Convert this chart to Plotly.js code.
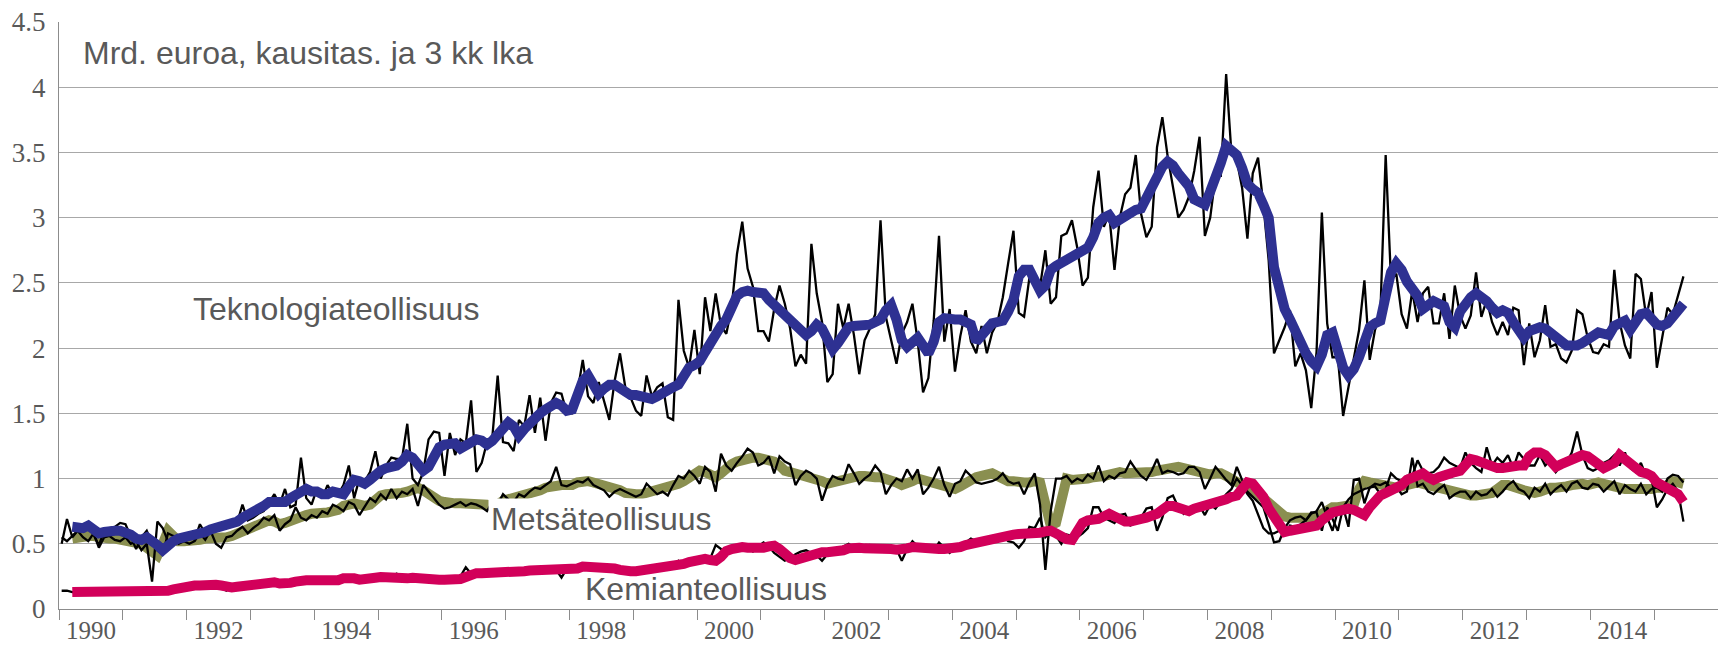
<!DOCTYPE html>
<html>
<head>
<meta charset="utf-8">
<script src="https://cdn.plot.ly/plotly-3.0.1.min.js"></script>
<style>html,body{margin:0;padding:0;background:#fff;}#chart{width:1718px;height:646px;}</style>
</head>
<body>
<div id="chart"></div>
<script>
// Monthly data, January 1990 – June 2015 (billion euros)
const START_YEAR = 1990;

const techMonthly = [
0.50,0.69,0.55,0.60,0.60,0.65,0.57,0.49,0.60,0.62,0.63,0.66,
0.65,0.56,0.46,0.55,0.60,0.50,0.45,0.42,0.58,0.56,0.55,0.54,
0.56,0.53,0.65,0.58,0.60,0.64,0.62,0.66,0.64,0.66,0.80,0.68,
0.70,0.73,0.75,0.82,0.88,0.80,0.92,0.78,0.80,1.16,0.85,0.80,
0.92,0.85,0.95,0.88,0.88,0.95,1.10,0.85,1.00,0.98,1.05,1.21,
1.00,1.10,1.16,1.15,1.15,1.42,1.00,0.95,1.05,1.30,1.36,1.35,
1.02,1.35,1.18,1.30,1.27,1.60,1.05,1.12,1.28,1.32,1.79,1.28,
1.27,1.21,1.45,1.40,1.64,1.35,1.62,1.29,1.58,1.66,1.65,1.50,
1.50,1.66,1.91,1.63,1.58,1.74,1.60,1.45,1.75,1.96,1.70,1.62,
1.52,1.48,1.79,1.63,1.70,1.73,1.47,1.45,2.37,1.98,1.85,2.14,
1.80,2.39,2.13,2.42,2.17,2.11,2.31,2.72,2.97,2.61,2.47,2.13,
2.13,2.05,2.30,2.48,2.34,2.15,1.86,1.95,1.88,2.80,2.42,2.20,
1.74,1.80,2.34,2.15,2.34,2.10,1.80,2.06,2.15,2.26,2.98,2.24,
2.06,1.88,2.11,2.20,2.34,2.05,1.66,1.77,2.21,2.86,2.05,2.30,
1.82,2.09,2.29,2.05,1.96,2.17,1.96,2.12,2.20,2.39,2.65,2.90,
2.27,2.24,2.54,2.49,2.47,2.75,2.34,2.39,2.86,2.88,2.98,2.77,
2.48,2.54,3.08,3.36,2.93,3.03,2.60,3.00,3.18,3.23,3.48,3.03,
2.85,2.93,3.54,3.77,3.47,3.23,3.00,3.06,3.16,3.36,3.62,2.86,
3.00,3.32,3.32,4.10,3.49,3.44,3.23,2.84,3.34,3.46,3.10,2.67,
1.96,2.06,2.16,2.29,1.86,1.96,1.83,1.54,1.97,3.04,2.19,1.93,
1.93,1.48,1.70,1.93,2.14,2.52,1.91,2.14,2.26,3.48,2.52,2.57,
2.26,2.15,2.44,2.20,2.42,2.47,2.19,2.19,2.42,2.07,2.48,2.25,
2.15,2.25,2.58,2.24,2.37,2.20,2.10,2.20,2.10,2.31,2.29,1.87,
2.19,1.93,2.06,2.33,2.01,2.03,1.92,1.89,1.98,2.29,2.26,2.08,
1.97,1.96,2.03,2.01,2.60,2.20,2.02,1.92,2.57,2.53,2.24,2.43,
1.85,2.08,2.31,2.26,2.40,2.55
];

const techAvg3 = [
null,null,0.63,0.62,0.62,0.64,0.61,0.58,0.59,0.60,0.60,0.60,
0.59,0.57,0.54,0.53,0.55,0.53,0.49,0.45,0.50,0.52,0.54,0.55,
0.55,0.56,0.57,0.59,0.61,0.62,0.63,0.64,0.65,0.67,0.70,0.72,
0.74,0.75,0.79,0.82,0.82,0.81,0.82,0.85,0.87,0.91,0.92,0.90,
0.90,0.88,0.88,0.90,0.89,0.88,0.94,0.99,0.98,0.96,0.99,1.04,
1.06,1.08,1.09,1.10,1.13,1.18,1.16,1.10,1.06,1.09,1.18,1.24,
1.26,1.27,1.27,1.23,1.26,1.29,1.30,1.29,1.26,1.29,1.34,1.40,
1.43,1.40,1.33,1.38,1.43,1.47,1.50,1.53,1.55,1.58,1.56,1.52,
1.53,1.63,1.75,1.79,1.72,1.65,1.69,1.72,1.72,1.69,1.66,1.64,
1.64,1.63,1.62,1.61,1.63,1.66,1.68,1.70,1.72,1.80,1.85,1.87,
1.90,1.97,2.05,2.12,2.17,2.22,2.33,2.40,2.43,2.44,2.43,2.43,
2.42,2.37,2.33,2.30,2.27,2.23,2.19,2.15,2.10,2.13,2.18,2.15,
2.05,1.99,2.04,2.12,2.16,2.17,2.17,2.17,2.18,2.20,2.22,2.29,
2.33,2.22,2.06,2.01,2.05,2.08,2.02,1.96,2.05,2.20,2.23,2.22,
2.22,2.22,2.20,2.18,2.05,2.10,2.17,2.19,2.20,2.21,2.28,2.37,
2.55,2.60,2.60,2.50,2.44,2.48,2.60,2.63,2.65,2.67,2.69,2.72,
2.74,2.77,2.85,2.96,3.00,3.02,2.96,2.99,3.02,3.04,3.06,3.07,
3.15,3.22,3.32,3.39,3.43,3.40,3.34,3.29,3.24,3.14,3.12,3.10,
3.20,3.29,3.42,3.55,3.52,3.48,3.38,3.26,3.22,3.19,3.10,3.00,
2.62,2.42,2.30,2.22,2.12,2.01,1.96,1.90,1.86,1.95,2.10,2.12,
1.98,1.85,1.79,1.84,1.93,2.05,2.16,2.19,2.21,2.40,2.58,2.65,
2.60,2.51,2.46,2.40,2.30,2.32,2.36,2.34,2.32,2.20,2.16,2.28,
2.35,2.39,2.42,2.40,2.36,2.31,2.27,2.29,2.27,2.20,2.13,2.08,
2.13,2.15,2.16,2.15,2.12,2.10,2.06,2.02,2.02,2.02,2.04,2.07,
2.10,2.12,2.11,2.10,2.17,2.20,2.21,2.14,2.20,2.26,2.27,2.22,
2.18,2.17,2.19,2.24,2.29,2.34
];

const forestMonthly = [
0.55,0.52,0.56,0.60,0.55,0.52,0.58,0.47,0.55,0.56,0.53,0.52,
0.55,0.50,0.52,0.45,0.50,0.21,0.67,0.62,0.52,0.55,0.50,0.52,
0.50,0.52,0.58,0.53,0.60,0.50,0.47,0.55,0.56,0.60,0.63,0.58,
0.62,0.65,0.70,0.68,0.72,0.60,0.65,0.68,0.78,0.70,0.68,0.72,
0.70,0.75,0.73,0.80,0.78,0.75,0.82,0.80,0.72,0.78,0.85,0.82,
0.88,0.84,0.92,0.85,0.90,0.88,0.92,0.79,0.95,0.90,0.85,0.80,
0.77,0.78,0.80,0.82,0.79,0.81,0.80,0.78,0.75,0.82,0.80,0.88,
0.84,0.82,0.88,0.86,0.90,0.93,0.92,0.95,0.98,1.09,0.95,0.94,
0.96,0.98,0.97,1.00,0.95,0.93,0.91,0.86,0.90,0.92,0.90,0.88,
0.86,0.88,0.96,0.92,0.88,0.90,0.87,0.95,1.02,1.00,1.06,1.02,
0.96,1.09,1.05,0.90,1.19,1.10,1.06,1.12,1.17,1.23,1.20,1.10,
1.12,1.17,1.04,1.17,1.13,1.11,0.95,1.02,1.06,1.04,1.00,0.83,
0.95,1.02,1.00,0.99,1.11,1.04,0.96,1.00,1.03,1.10,1.05,0.88,
0.95,1.00,0.98,1.07,1.00,1.07,0.88,0.93,1.00,1.09,0.95,0.86,
0.96,0.98,1.06,1.02,0.97,0.96,0.97,0.98,1.00,1.04,0.98,0.96,
0.97,0.88,0.97,1.04,0.80,0.30,0.75,1.00,1.00,1.02,0.97,1.00,
0.98,1.03,1.00,1.10,0.98,1.02,1.00,1.04,1.05,1.13,1.07,1.02,
0.99,1.06,1.15,1.04,1.06,1.05,1.03,1.04,1.09,1.09,1.05,0.92,
1.00,1.09,1.04,0.99,0.95,1.09,0.99,0.90,0.86,0.82,0.78,0.65,
0.51,0.52,0.62,0.68,0.70,0.71,0.68,0.73,0.75,0.82,0.70,0.60,
0.75,0.78,0.63,0.99,1.00,0.81,0.93,0.96,0.95,0.97,0.93,0.94,
0.88,0.90,1.16,0.94,0.96,0.90,0.88,0.92,0.95,0.85,0.88,0.90,
0.90,0.85,0.90,0.87,0.88,0.92,0.86,0.90,0.95,0.98,0.92,0.90,
0.85,0.93,0.90,0.96,0.88,0.92,0.95,0.90,0.96,0.98,0.93,0.92,
0.96,0.95,0.90,0.94,0.98,0.88,0.95,0.92,0.90,0.96,0.88,0.92,
0.93,0.90,1.00,1.03,1.02,0.97
];

const forestAvg3 = [
null,null,0.54,0.55,0.55,0.56,0.56,0.55,0.55,0.54,0.54,0.53,
0.53,0.52,0.51,0.50,0.47,0.43,0.41,0.50,0.60,0.56,0.52,0.52,
0.52,0.53,0.53,0.54,0.54,0.55,0.55,0.55,0.56,0.58,0.60,0.62,
0.64,0.66,0.68,0.68,0.67,0.65,0.66,0.68,0.69,0.71,0.72,0.73,
0.73,0.73,0.74,0.75,0.76,0.79,0.80,0.81,0.80,0.79,0.80,0.85,
0.87,0.88,0.88,0.89,0.89,0.90,0.92,0.93,0.91,0.88,0.85,0.83,
0.82,0.81,0.81,0.81,0.81,0.81,0.80,0.80,0.80,0.79,0.80,0.83,
0.84,0.85,0.86,0.87,0.88,0.90,0.91,0.93,0.94,0.95,0.95,0.95,
0.95,0.97,0.98,0.98,0.97,0.96,0.95,0.94,0.93,0.91,0.89,0.88,
0.88,0.88,0.89,0.90,0.91,0.92,0.93,0.94,0.96,0.98,1.01,1.05,
1.06,1.05,1.03,1.01,1.04,1.08,1.11,1.13,1.14,1.16,1.16,1.16,
1.15,1.14,1.13,1.10,1.06,1.05,1.04,1.03,1.02,1.01,1.00,0.98,
0.96,0.97,0.99,1.00,1.01,1.02,1.02,1.02,1.01,1.01,1.01,1.00,
0.99,0.97,0.95,0.96,0.98,1.00,0.99,0.98,0.97,0.96,0.94,0.93,
0.92,0.94,0.97,0.99,1.01,1.02,1.03,1.04,1.02,0.99,0.98,0.98,
0.97,0.97,0.97,0.98,0.97,0.78,0.64,0.66,0.85,1.00,0.99,0.99,
1.00,1.00,1.01,1.01,1.02,1.03,1.04,1.05,1.04,1.04,1.04,1.05,
1.05,1.05,1.06,1.07,1.08,1.08,1.09,1.08,1.07,1.06,1.05,1.03,
1.03,1.04,1.04,1.02,1.00,0.98,0.96,0.94,0.91,0.88,0.85,0.81,
0.77,0.73,0.71,0.70,0.70,0.69,0.69,0.69,0.70,0.73,0.76,0.78,
0.78,0.79,0.79,0.80,0.92,0.98,0.97,0.96,0.95,0.94,0.93,0.93,
0.94,0.95,0.96,0.97,0.96,0.95,0.93,0.92,0.91,0.90,0.89,0.89,
0.88,0.87,0.87,0.88,0.88,0.89,0.92,0.95,0.95,0.93,0.91,0.91,
0.90,0.89,0.90,0.92,0.93,0.93,0.93,0.94,0.95,0.96,0.96,0.95,
0.96,0.97,0.96,0.95,0.93,0.92,0.92,0.92,0.92,0.92,0.91,0.92,
0.93,0.93,0.95,0.98,0.97,0.96
];

const chemMonthly = [
0.14,0.14,0.13,0.13,0.13,0.14,0.13,0.14,0.14,0.15,0.14,0.14,
0.15,0.14,0.14,0.15,0.14,0.14,0.15,0.15,0.14,0.16,0.17,0.18,
0.19,0.18,0.19,0.20,0.18,0.17,0.16,0.14,0.17,0.18,0.17,0.19,
0.18,0.20,0.19,0.22,0.21,0.19,0.18,0.20,0.23,0.22,0.21,0.23,
0.22,0.21,0.20,0.21,0.25,0.22,0.24,0.25,0.22,0.23,0.24,0.25,
0.24,0.23,0.25,0.27,0.22,0.24,0.22,0.23,0.21,0.22,0.23,0.22,
0.22,0.23,0.23,0.25,0.32,0.27,0.26,0.28,0.27,0.29,0.27,0.29,
0.28,0.30,0.27,0.29,0.31,0.29,0.30,0.32,0.28,0.30,0.24,0.31,
0.31,0.33,0.32,0.31,0.34,0.30,0.32,0.29,0.30,0.28,0.29,0.30,
0.29,0.31,0.29,0.30,0.31,0.32,0.31,0.33,0.37,0.33,0.35,0.38,
0.37,0.40,0.39,0.49,0.46,0.44,0.45,0.48,0.46,0.47,0.44,0.48,
0.51,0.48,0.43,0.40,0.37,0.39,0.42,0.44,0.45,0.43,0.41,0.37,
0.42,0.44,0.45,0.48,0.50,0.47,0.46,0.44,0.49,0.47,0.48,0.45,
0.44,0.46,0.37,0.46,0.52,0.48,0.45,0.47,0.45,0.51,0.47,0.43,
0.47,0.45,0.51,0.54,0.52,0.53,0.55,0.55,0.56,0.57,0.52,0.51,
0.47,0.52,0.63,0.62,0.70,0.55,0.59,0.56,0.50,0.57,0.56,0.55,
0.58,0.62,0.78,0.78,0.70,0.68,0.66,0.72,0.73,0.64,0.66,0.70,
0.77,0.78,0.60,0.70,0.85,0.87,0.78,0.73,0.77,0.78,0.79,0.72,
0.80,0.77,0.83,0.88,0.92,1.00,0.95,0.88,0.83,0.72,0.62,0.58,
0.58,0.60,0.58,0.64,0.63,0.65,0.68,0.74,0.74,0.60,0.78,0.69,
0.60,0.78,0.84,0.88,0.90,0.92,0.93,0.94,0.88,0.92,1.04,1.00,
0.98,1.02,1.02,1.14,1.06,1.04,1.05,1.09,1.16,1.12,1.10,1.08,
1.20,1.12,1.08,1.05,1.24,1.10,1.16,1.12,1.18,1.08,1.20,1.15,
1.10,1.10,1.18,1.10,1.14,1.05,1.10,1.12,1.20,1.36,1.18,1.08,
1.06,1.08,1.12,1.14,1.18,1.10,1.20,1.08,1.05,1.12,1.02,1.00,
0.78,0.84,0.92,0.96,0.90,0.67
];

const chemAvg3 = [
null,null,0.13,0.13,0.13,0.13,0.13,0.13,0.135,0.135,0.14,0.14,
0.14,0.14,0.14,0.14,0.14,0.14,0.14,0.14,0.14,0.15,0.16,0.165,
0.17,0.18,0.18,0.185,0.19,0.185,0.18,0.17,0.165,0.17,0.175,0.18,
0.18,0.185,0.19,0.21,0.205,0.195,0.19,0.20,0.21,0.22,0.22,0.22,
0.22,0.215,0.21,0.205,0.22,0.235,0.24,0.235,0.225,0.225,0.235,0.24,
0.245,0.24,0.235,0.235,0.235,0.235,0.24,0.235,0.225,0.22,0.225,0.225,
0.225,0.225,0.225,0.23,0.245,0.27,0.275,0.275,0.275,0.275,0.28,0.285,
0.285,0.285,0.29,0.29,0.295,0.295,0.295,0.295,0.295,0.30,0.30,0.30,
0.305,0.31,0.325,0.325,0.325,0.325,0.32,0.32,0.31,0.30,0.29,0.29,
0.29,0.295,0.295,0.30,0.305,0.31,0.32,0.325,0.335,0.345,0.36,0.375,
0.38,0.385,0.375,0.37,0.40,0.445,0.46,0.47,0.475,0.47,0.465,0.465,
0.47,0.48,0.485,0.46,0.42,0.39,0.375,0.39,0.41,0.42,0.43,0.435,
0.435,0.435,0.44,0.45,0.465,0.475,0.47,0.465,0.465,0.47,0.475,0.47,
0.46,0.455,0.455,0.465,0.475,0.47,0.465,0.455,0.455,0.46,0.46,0.46,
0.465,0.475,0.49,0.50,0.51,0.525,0.535,0.54,0.545,0.55,0.56,0.57,
0.575,0.575,0.578,0.58,0.585,0.595,0.60,0.58,0.55,0.535,0.53,0.60,
0.66,0.68,0.68,0.69,0.71,0.73,0.71,0.68,0.67,0.67,0.69,0.69,
0.70,0.71,0.73,0.76,0.79,0.79,0.77,0.75,0.75,0.77,0.78,0.79,
0.80,0.81,0.83,0.84,0.86,0.87,0.92,0.97,0.96,0.92,0.86,0.77,
0.70,0.64,0.59,0.60,0.61,0.62,0.62,0.63,0.64,0.68,0.72,0.74,
0.75,0.76,0.77,0.76,0.73,0.72,0.78,0.84,0.87,0.89,0.91,0.92,
0.95,0.99,1.01,1.03,1.04,1.01,0.99,1.01,1.03,1.04,1.05,1.06,
1.12,1.15,1.14,1.12,1.11,1.10,1.08,1.08,1.09,1.10,1.10,1.10,
1.17,1.20,1.20,1.18,1.12,1.09,1.11,1.13,1.15,1.16,1.18,1.17,
1.14,1.11,1.08,1.10,1.12,1.18,1.15,1.11,1.07,1.05,1.04,1.02,
0.97,0.95,0.92,0.91,0.88,0.82
];

const yearTicks = [1990,1991,1992,1993,1994,1995,1996,1997,1998,1999,2000,2001,2002,2003,2004,2005,2006,2007,2008,2009,2010,2011,2012,2013,2014,2015,2016];
const yearLabels = ["1990","1992","1994","1996","1998","2000","2002","2004","2006","2008","2010","2012","2014"];

const labels = {
  title: "Mrd. euroa, kausitas. ja 3 kk lka",
  tech: "Teknologiateollisuus",
  forest: "Metsäteollisuus",
  chem: "Kemianteollisuus"
};

const COLORS = { tech: "#2E3192", forest: "#8A8F50", chem: "#D2005A", thin: "#000000" };

const monthX = techMonthly.map((_, i) => START_YEAR + (i + 0.5) / 12);

function line(y, color, width, xaxis) {
  return { x: monthX, y: y, type: "scatter", mode: "lines", hoverinfo: "skip", xaxis: xaxis || "x",
           line: { color: color, width: width }, connectgaps: false, showlegend: false };
}

const traces = [
  line(forestAvg3, COLORS.forest, 10),
  line(chemMonthly, COLORS.thin, 2.3),
  line(forestMonthly, COLORS.thin, 2.3),
  line(techMonthly, COLORS.thin, 2.3),
  line(chemAvg3, COLORS.chem, 10),
  line(techAvg3, COLORS.tech, 10, "x2")
];

const xTickFont = { family: "Liberation Serif", size: 25, color: "#595959" };
const yTickFont = { family: "Liberation Serif", size: 27, color: "#595959" };
const textFont = { family: "Liberation Sans", size: 32, color: "#595959" };

const layout = {
  width: 1718, height: 646,
  margin: { l: 59, r: 0, t: 22, b: 37 },
  paper_bgcolor: "#ffffff", plot_bgcolor: "#ffffff",
  showlegend: false,
  xaxis: {
    range: [1990, 2016], tickmode: "array", tickvals: yearTicks, ticktext: yearTicks.map(() => ""),
    ticks: "outside", ticklen: 10, tickwidth: 1, tickcolor: "#8c8c8c",
    showline: true, linecolor: "#8c8c8c", linewidth: 1, showgrid: false, zeroline: false, fixedrange: true
  },
  xaxis2: {
    overlaying: "x", anchor: "y", side: "bottom",
    range: [1990, 2016], tickmode: "array",
    tickvals: yearLabels.map(s => Number(s) + 0.5), ticktext: yearLabels,
    ticks: "", showline: false, showgrid: false, zeroline: false, tickfont: xTickFont,
    ticklabelstandoff: 4, fixedrange: true
  },
  yaxis: {
    range: [0, 4.5], tick0: 0, dtick: 0.5, ticks: "",
    showgrid: true, gridcolor: "#a8a8a8", gridwidth: 1,
    showline: true, linecolor: "#8c8c8c", linewidth: 1, zeroline: false,
    tickfont: yTickFont, ticklabelstandoff: 7, fixedrange: true
  },
  annotations: [
    { text: labels.title, x: 1990.35, y: 4.26, xref: "x", yref: "y", xanchor: "left", yanchor: "middle",
      showarrow: false, font: textFont },
    { text: labels.tech, x: 1994.34, y: 2.30, xref: "x", yref: "y", xanchor: "center", yanchor: "middle",
      showarrow: false, font: textFont },
    { text: labels.forest, x: 1998.50, y: 0.687, xref: "x", yref: "y", xanchor: "center", yanchor: "middle",
      showarrow: false, font: textFont, bgcolor: "#ffffff", borderpad: 2 },
    { text: labels.chem, x: 2000.14, y: 0.15, xref: "x", yref: "y", xanchor: "center", yanchor: "middle",
      showarrow: false, font: textFont }
  ]
};

Plotly.newPlot("chart", traces, layout, { staticPlot: true, displayModeBar: false });
</script>
</body>
</html>
